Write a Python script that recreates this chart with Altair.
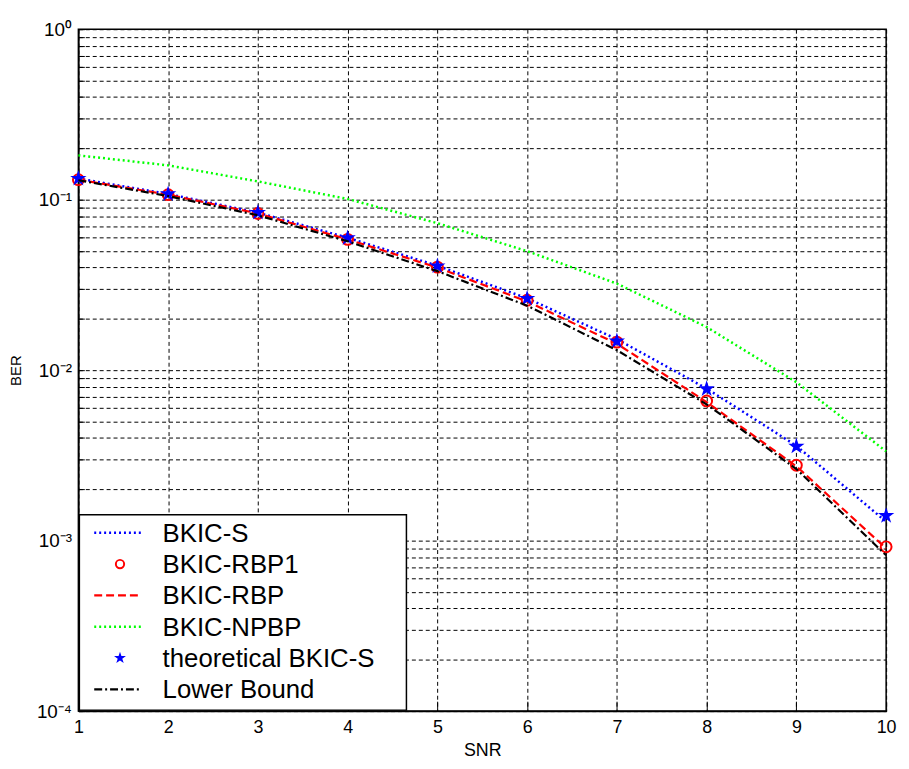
import json
import altair as alt
import pandas as pd

# ---------------- data ----------------
snr = [1, 2, 3, 4, 5, 6, 7, 8, 9, 10]
bkic_s = [0.133, 0.108, 0.084, 0.0598, 0.041, 0.0264, 0.0152, 0.0078, 0.0036, 0.00129]
bkic_rbp1 = [0.131, 0.107, 0.083, 0.0585, 0.0402, 0.0257, 0.0146, 0.0066, 0.00277, 0.00092]
bkic_rbp = [0.131, 0.107, 0.083, 0.0585, 0.0400, 0.0253, 0.0143, 0.0065, 0.00273, 0.00090]
bkic_npbp = [0.182, 0.159, 0.128, 0.101, 0.0728, 0.0499, 0.0322, 0.0179, 0.0085, 0.00334]
theoretical_bkic_s = [0.133, 0.108, 0.084, 0.0596, 0.0408, 0.0263, 0.0148, 0.00776, 0.00357, 0.0014]
lower_bound = [0.130, 0.105, 0.081, 0.057, 0.0381, 0.0239, 0.0131, 0.0063, 0.00263, 0.00082]

series_names = ["BKIC-S", "BKIC-RBP1", "BKIC-RBP", "BKIC-NPBP",
                "theoretical BKIC-S", "Lower Bound"]

x_ticks = [1, 2, 3, 4, 5, 6, 7, 8, 9, 10]
y_major_values = [0.0001, 0.001, 0.01, 0.1, 1.0]
y_major_labels = ["10\u207b\u2074", "10\u207b\u00b3", "10\u207b\u00b2", "10\u207b\u00b9", "10\u2070"]
y_grid_values = sorted(set([round(k * 10.0 ** e, 10) for e in range(-4, 0) for k in range(1, 10)] + [1.0]))

# ---------------- layout / style ----------------
W, H = 815, 688
FONT = "Liberation Sans"
STAR = ("M0,-1L0.2245,-0.309L0.951,-0.309L0.363,0.118L0.588,0.809L0,0.382"
        "L-0.588,0.809L-0.363,0.118L-0.951,-0.309L-0.2245,-0.309Z")

styles = {
    "BKIC-S": dict(kind="line", color="#0000ff", dash=[2, 3], width=2.5),
    "BKIC-RBP1": dict(kind="point", color="#ff0000", shape="circle", filled=False),
    "BKIC-RBP": dict(kind="line", color="#ff0000", dash=[8, 4], width=2.2),
    "BKIC-NPBP": dict(kind="line", color="#00ff00", dash=[2, 3], width=2.5),
    "theoretical BKIC-S": dict(kind="point", color="#0000ff", shape=STAR, filled=True),
    "Lower Bound": dict(kind="line", color="#000000", dash=[8, 3, 2, 3], width=2.2),
}
values_by_name = {
    "BKIC-S": bkic_s,
    "BKIC-RBP1": bkic_rbp1,
    "BKIC-RBP": bkic_rbp,
    "BKIC-NPBP": bkic_npbp,
    "theoretical BKIC-S": theoretical_bkic_s,
    "Lower Bound": lower_bound,
}

major_js = json.dumps(y_major_values)
labels_js = json.dumps(y_major_labels, ensure_ascii=False)
y_label_expr = (f"indexof({major_js}, datum.value) >= 0 ? "
                f"{labels_js}[indexof({major_js}, datum.value)] : ''")

x_axis = alt.Axis(
    values=x_ticks, format="d", grid=True, gridColor="#000000", gridDash=[4, 3],
    gridWidth=1, gridOpacity=1, domainColor="#000000", domainWidth=1.5,
    tickColor="#000000", tickSize={"expr": "-10"}, tickWidth=1,
    labelPadding=18, labelFontSize=18, labelFont=FONT, labelColor="#000000",
    labelFlush=False,
    titleFont=FONT, titleFontSize=18, titleFontWeight="normal", titleColor="#000000",
    titlePadding=5,
)
y_axis = alt.Axis(
    values=y_grid_values, labelExpr=y_label_expr, grid=True, gridColor="#000000",
    gridDash=[4, 3], gridWidth=1, gridOpacity=1, domainColor="#000000", domainWidth=1.5,
    tickColor="#000000", tickSize={"expr": "-6"}, tickWidth=1,
    labelPadding=13, labelFontSize=19, labelFont=FONT, labelColor="#000000",
    labelFlush=False, labelOverlap=False, labelBaseline="middle",
    titleFont=FONT, titleFontSize=15, titleFontWeight="normal", titleColor="#000000",
    titlePadding=13,
)

X = alt.X("snr:Q", scale=alt.Scale(domain=[1, 10], nice=False, zero=False),
          axis=x_axis, title="SNR")
Y = alt.Y("ber:Q", scale=alt.Scale(type="log", domain=[0.0001, 1], nice=False),
          axis=y_axis, title="BER")

layers = []
for name in series_names:
    st = styles[name]
    df = pd.DataFrame({"snr": snr, "ber": values_by_name[name]})
    if st["kind"] == "line":
        m = alt.Chart(df).mark_line(color=st["color"], strokeDash=st["dash"], strokeWidth=st["width"])
    else:
        m = alt.Chart(df).mark_point(shape=st["shape"], filled=st["filled"], color=st["color"],
                                     size=120 if not st["filled"] else 300,
                                     strokeWidth=2 if not st["filled"] else 1, opacity=1)
    layers.append(m.encode(x=X, y=Y))

# ---------------- legend (box drawn over the plot, lower left) ----------------
LEG_X0, LEG_X1, LEG_Y0, LEG_Y1 = 1, 331, 490, 687
ROW_Y0, ROW_STEP = 508, 31.6
SYM_X0, SYM_X1, SYM_XC, TEXT_X = 16, 64, 42, 85

one = pd.DataFrame({"k": [0]})
layers.append(
    alt.Chart(one).mark_rect(fill="#ffffff", stroke="#000000", strokeWidth=1.5).encode(
        x=alt.value(LEG_X0), x2=alt.value(LEG_X1), y=alt.value(LEG_Y0), y2=alt.value(LEG_Y1))
)
for i, name in enumerate(series_names):
    st = styles[name]
    ry = ROW_Y0 + i * ROW_STEP
    if st["kind"] == "line":
        layers.append(
            alt.Chart(one).mark_rule(color=st["color"], strokeDash=st["dash"], strokeWidth=st["width"]).encode(
                x=alt.value(SYM_X0), x2=alt.value(SYM_X1), y=alt.value(ry))
        )
    else:
        layers.append(
            alt.Chart(one).mark_point(shape=st["shape"], filled=st["filled"], color=st["color"],
                                      size=70 if not st["filled"] else 160,
                                      strokeWidth=2 if not st["filled"] else 1, opacity=1).encode(
                x=alt.value(SYM_XC), y=alt.value(ry))
        )
    layers.append(
        alt.Chart(pd.DataFrame({"label": [name]})).mark_text(
            align="left", baseline="middle", font=FONT, fontSize=26, color="#000000", dy=1).encode(
            x=alt.value(TEXT_X), y=alt.value(ry), text="label:N")
    )

chart = alt.layer(*layers).properties(
    width=W, height=H,
    autosize=alt.AutoSizeParams(type="none"),
    padding={"left": 71, "top": 18, "right": 15, "bottom": 55},
    background="#ffffff",
).configure_view(stroke="#000000", strokeWidth=1.5)

chart.save("out.html", embed_options={"renderer": "svg", "actions": False})
